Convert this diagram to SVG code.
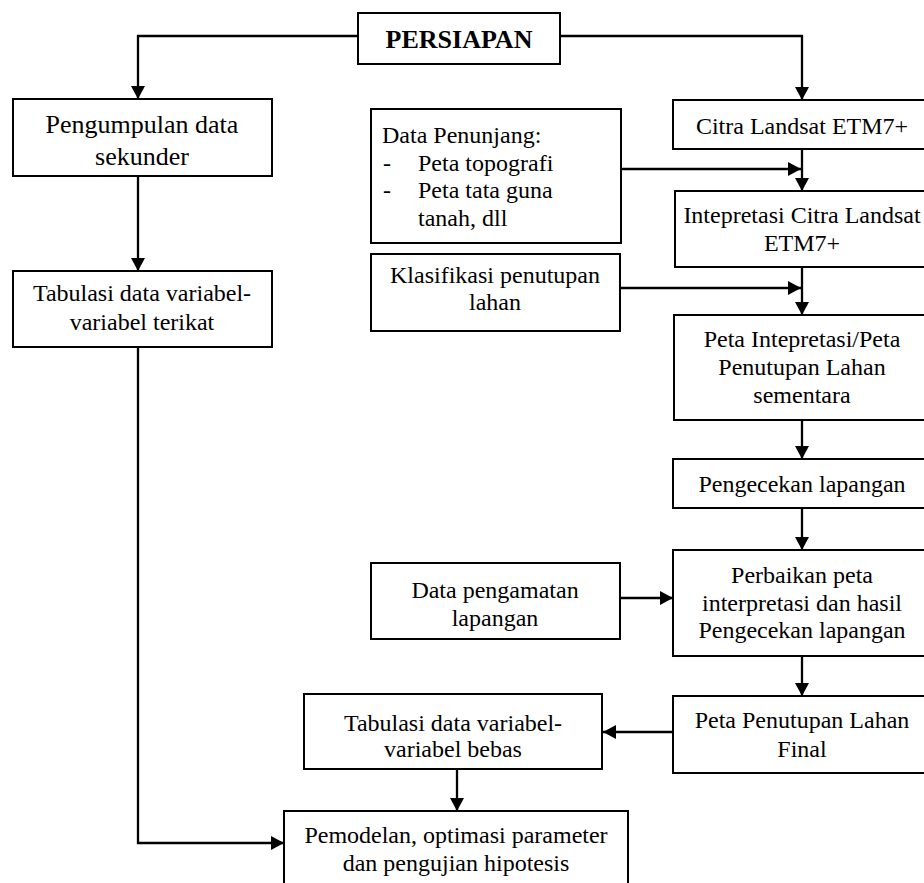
<svg xmlns="http://www.w3.org/2000/svg" width="924" height="883" viewBox="0 0 924 883">
<style>
.box{fill:#fff;stroke:#000;stroke-width:2}
.t{font-family:"Liberation Serif","Times New Roman",serif;font-size:24px;fill:#000;text-anchor:middle}
.l{text-anchor:start}
.big{font-size:26px}
.b{font-weight:bold;font-size:26px}
.c{fill:none;stroke:#000;stroke-width:2.3}
</style>
<defs>
<marker id="ah" markerUnits="userSpaceOnUse" markerWidth="14" markerHeight="14" refX="13" refY="7" orient="auto">
<path d="M0,0 L13,7 L0,14 z" fill="#000"/>
</marker>
</defs>
<rect width="924" height="883" fill="#fff"/>
<g id="connectors">
<path class="c" d="M358,36 H138 V99" marker-end="url(#ah)"/>
<path class="c" d="M560,36 H802 V100" marker-end="url(#ah)"/>
<path class="c" d="M138,176 V271" marker-end="url(#ah)"/>
<path class="c" d="M138,347 V843 H284" marker-end="url(#ah)"/>
<path class="c" d="M802,149 V191" marker-end="url(#ah)"/>
<path class="c" d="M621,169 H801" marker-end="url(#ah)"/>
<path class="c" d="M802,267 V315" marker-end="url(#ah)"/>
<path class="c" d="M620,288 H801" marker-end="url(#ah)"/>
<path class="c" d="M802,420 V459" marker-end="url(#ah)"/>
<path class="c" d="M802,508 V550" marker-end="url(#ah)"/>
<path class="c" d="M620,598 H673" marker-end="url(#ah)"/>
<path class="c" d="M802,656 V696" marker-end="url(#ah)"/>
<path class="c" d="M676,732 H603" marker-end="url(#ah)"/>
<path class="c" d="M457,769 V811" marker-end="url(#ah)"/>
</g>
<g id="persiapan">
<rect class="box" x="358" y="13" width="202" height="51"/>
<text class="t b" x="459" y="48">PERSIAPAN</text>
</g>
<g id="pengumpulan">
<rect class="box" x="13" y="99" width="259" height="77"/>
<text class="t big" x="142" y="133">Pengumpulan data</text>
<text class="t big" x="142" y="165">sekunder</text>
</g>
<g id="tabulasi-terikat">
<rect class="box" x="13" y="271" width="259" height="76"/>
<text class="t" x="142" y="301">Tabulasi data variabel-</text>
<text class="t" x="142" y="330">variabel terikat</text>
</g>
<g id="data-penunjang">
<rect class="box" x="371" y="109" width="250" height="134"/>
<text class="t l" x="382" y="143">Data Penunjang:</text>
<text class="t l" x="383" y="171">-</text>
<text class="t l" x="418" y="171">Peta topografi</text>
<text class="t l" x="383" y="198">-</text>
<text class="t l" x="418" y="198">Peta tata guna</text>
<text class="t l" x="418" y="226">tanah, dll</text>
</g>
<g id="klasifikasi">
<rect class="box" x="371" y="254" width="249" height="77"/>
<text class="t" x="495" y="283">Klasifikasi penutupan</text>
<text class="t" x="495" y="310">lahan</text>
</g>
<g id="citra">
<rect class="box" x="673" y="100" width="262" height="49"/>
<text class="t" x="802" y="134">Citra Landsat ETM7+</text>
</g>
<g id="intepretasi">
<rect class="box" x="675" y="191" width="260" height="76"/>
<text class="t" x="802" y="223">Intepretasi Citra Landsat</text>
<text class="t" x="802" y="251">ETM7+</text>
</g>
<g id="peta-interpretasi">
<rect class="box" x="674" y="315" width="261" height="105"/>
<text class="t" x="802" y="347">Peta Intepretasi/Peta</text>
<text class="t" x="802" y="375">Penutupan Lahan</text>
<text class="t" x="802" y="403">sementara</text>
</g>
<g id="pengecekan">
<rect class="box" x="673" y="459" width="262" height="49"/>
<text class="t" x="802" y="492">Pengecekan lapangan</text>
</g>
<g id="perbaikan">
<rect class="box" x="673" y="550" width="262" height="106"/>
<text class="t" x="802" y="583">Perbaikan peta</text>
<text class="t" x="802" y="611">interpretasi dan hasil</text>
<text class="t" x="802" y="638">Pengecekan lapangan</text>
</g>
<g id="data-pengamatan">
<rect class="box" x="371" y="563" width="249" height="76"/>
<text class="t" x="495" y="598">Data pengamatan</text>
<text class="t" x="495" y="626">lapangan</text>
</g>
<g id="final">
<rect class="box" x="673" y="696" width="262" height="77"/>
<text class="t" x="802" y="728">Peta Penutupan Lahan</text>
<text class="t" x="802" y="757">Final</text>
</g>
<g id="tabulasi-bebas">
<rect class="box" x="304" y="694" width="298" height="75"/>
<text class="t" x="453" y="731">Tabulasi data variabel-</text>
<text class="t" x="453" y="757">variabel bebas</text>
</g>
<g id="pemodelan">
<rect class="box" x="284" y="811" width="344" height="90"/>
<text class="t" x="456" y="843">Pemodelan, optimasi parameter</text>
<text class="t" x="456" y="871">dan pengujian hipotesis</text>
</g>
</svg>
